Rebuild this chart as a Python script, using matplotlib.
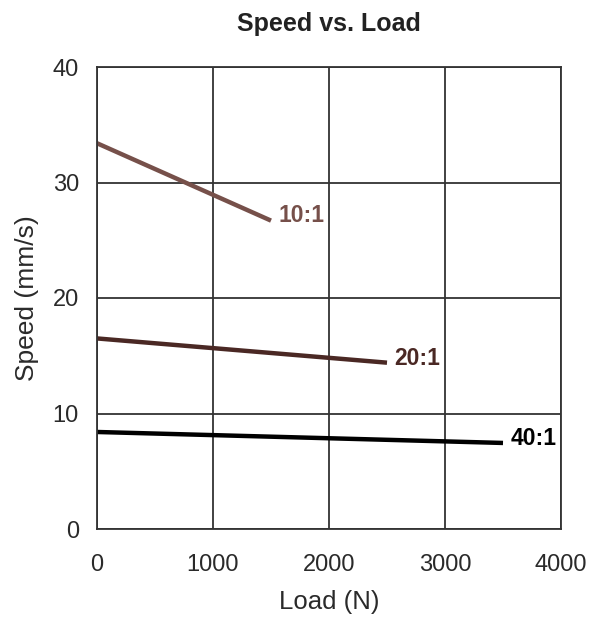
import matplotlib
matplotlib.use("Agg")
import matplotlib.pyplot as plt

plt.rcParams['font.family'] = ['Liberation Sans', 'DejaVu Sans']

ratios = ["10:1", "20:1", "40:1"]
load_10 = [0, 1500]
speed_10 = [33.4, 26.7]
load_20 = [0, 2500]
speed_20 = [16.5, 14.4]
load_40 = [0, 3500]
speed_40 = [8.4, 7.45]
colors = ["#76504a", "#4a2824", "#000000"]

x_ticks = [0, 1000, 2000, 3000, 4000]
y_ticks = [0, 10, 20, 30, 40]

fig = plt.figure(figsize=(5.89, 6.2), dpi=100)
ax = fig.add_axes([97/589, 1-529/620, 464/589, 462/620])

series = [(load_10, speed_10), (load_20, speed_20), (load_40, speed_40)]
for (xs, ys), lab, c in zip(series, ratios, colors):
    ax.plot(xs, ys, color=c, lw=3.2, solid_capstyle='butt')
    ax.text(xs[-1] + 65, ys[-1] + 0.4, lab, color=c, fontsize=16.5,
            fontweight='bold', va='center', ha='left')

ax.set_xlim(0, 4000)
ax.set_ylim(0, 40)
ax.set_xticks(x_ticks)
ax.set_yticks(y_ticks)
ax.set_xticklabels([str(v) for v in x_ticks], fontsize=17, color='#2a2a2a')
ax.set_yticklabels([str(v) for v in y_ticks], fontsize=17, color='#2a2a2a')
ax.tick_params(length=0)
ax.tick_params(axis='x', pad=18)
ax.tick_params(axis='y', pad=13)
ax.grid(True, color='#333333', lw=1.3)
for s in ax.spines.values():
    s.set_color('#333333')
    s.set_linewidth(1.3)

ax.set_title("Speed vs. Load", fontsize=18, fontweight='bold', pad=26, color='#222222')
ax.set_xlabel("Load (N)", fontsize=18.5, labelpad=10, color='#2a2a2a')
ax.set_ylabel("Speed (mm/s)", fontsize=19, labelpad=10, color='#2a2a2a')

fig.savefig("out.png", dpi=100)
